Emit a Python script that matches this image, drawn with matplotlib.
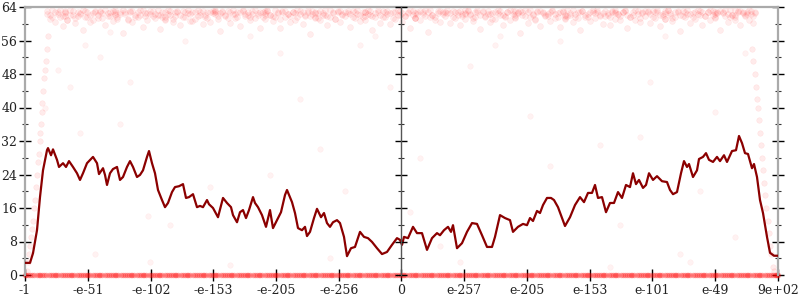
import matplotlib
matplotlib.use("Agg")
import matplotlib.pyplot as plt
from matplotlib.ticker import MultipleLocator

# x axis: sample order position (0 .. 753), tick labels are the sampled input values
x_ticks = [0, 63, 126, 188, 251, 314, 376, 439, 502, 565, 627, 690, 753]
x_labels = ["-1", "-e-51", "-e-102", "-e-153", "-e-205", "-e-256", "0",
            "e-257", "e-205", "e-153", "e-101", "e-49", "9e+02"]
mid_pos = 376

# averaged error (bits) along x
line_x = [0, 5, 8, 12, 15, 18, 22, 23, 26, 28, 32, 34, 38, 41, 44, 48, 52, 55, 58, 62,
          66, 68, 72, 74, 78, 80, 82, 85, 88, 92, 95, 98, 102, 105, 108, 112, 115, 118, 122, 124,
          127, 130, 133, 137, 140, 143, 147, 150, 154, 158, 161, 164, 168, 172, 175, 178, 182, 184, 188, 193,
          198, 202, 206, 208, 212, 215, 218, 221, 224, 228, 230, 233, 237, 241, 245, 248, 252, 256, 260, 262,
          267, 270, 273, 277, 280, 282, 285, 289, 292, 296, 299, 302, 305, 308, 312, 315, 319, 322, 326, 330,
          335, 339, 343, 347, 352, 357, 362, 367, 372, 375, 377, 379, 383, 388, 392, 397, 402, 407, 412, 415,
          419, 423, 426, 428, 432, 437, 442, 447, 452, 457, 462, 467, 470, 475, 480, 485, 488, 493, 498, 502,
          505, 508, 512, 515, 518, 522, 526, 529, 533, 537, 540, 545, 550, 555, 559, 563, 567, 570, 573, 577,
          581, 585, 589, 593, 597, 601, 605, 608, 611, 614, 618, 621, 624, 628, 632, 637, 642, 645, 648, 652,
          656, 659, 662, 664, 668, 672, 674, 678, 681, 684, 688, 692, 695, 699, 702, 707, 711, 714, 717, 720,
          723, 727, 729, 732, 735, 738, 742, 745, 749, 753]
line_y = [2.9, 2.9, 5.2, 10.7, 18.6, 25.0, 29.8, 30.3, 28.6, 30.0, 27.5, 25.8, 26.7, 25.8, 27.2, 25.8, 24.3, 22.7, 24.3, 26.7,
          27.7, 28.2, 26.7, 24.1, 25.5, 23.9, 21.5, 24.3, 25.3, 25.8, 22.7, 23.4, 25.8, 27.2, 25.8, 23.4, 23.9, 25.0, 28.2, 29.6,
          26.7, 24.3, 20.3, 17.9, 16.2, 17.2, 19.8, 21.0, 21.2, 21.7, 18.4, 18.6, 19.3, 16.2, 16.5, 16.2, 17.9, 16.9, 16.0, 13.8,
          18.4, 17.2, 16.2, 14.3, 12.6, 15.0, 15.5, 13.6, 15.5, 18.6, 17.2, 16.2, 14.3, 11.5, 15.5, 11.2, 13.1, 15.0, 19.1, 20.3,
          17.4, 14.8, 11.2, 10.7, 11.5, 9.3, 10.3, 13.6, 15.8, 13.8, 14.8, 12.4, 11.5, 12.6, 13.1, 12.4, 9.1, 4.5, 6.4, 6.7,
          10.3, 9.1, 8.8, 7.9, 6.4, 5.0, 5.5, 7.2, 8.8, 8.4, 7.2, 9.1, 8.8, 11.5, 10.0, 10.0, 6.0, 8.8, 10.0, 9.5,
          10.7, 11.5, 10.3, 11.9, 6.4, 7.6, 10.3, 12.4, 12.2, 9.5, 6.7, 6.7, 9.1, 14.3, 13.6, 13.1, 10.3, 11.5, 12.2, 11.9,
          13.6, 12.9, 15.3, 14.8, 16.7, 18.4, 18.4, 17.9, 16.2, 13.6, 11.7, 13.8, 16.7, 18.6, 17.4, 19.6, 19.6, 21.5, 18.4, 18.6,
          15.0, 17.2, 17.2, 19.8, 18.4, 21.5, 21.0, 24.3, 21.7, 22.7, 20.8, 21.5, 24.3, 22.7, 23.6, 22.4, 22.2, 20.3, 19.3, 19.8,
          24.3, 27.2, 25.8, 26.5, 23.4, 25.0, 27.7, 28.2, 29.1, 27.5, 27.0, 28.2, 27.2, 28.6, 27.0, 29.6, 29.8, 33.2, 31.5, 29.1,
          28.9, 25.5, 26.5, 23.4, 17.9, 14.8, 9.1, 5.3, 4.6, 4.6]

# individual sampled errors: dense band near the top
top_x = [22, 25, 27, 30, 33, 35, 38, 40, 42, 45, 48, 50, 53, 55, 58, 60, 62, 65, 68, 70,
         73, 75, 77, 80, 83, 85, 88, 90, 92, 95, 98, 100, 103, 105, 107, 110, 113, 115, 118, 120,
         122, 125, 128, 130, 133, 135, 137, 140, 143, 145, 148, 150, 152, 155, 158, 160, 163, 165, 167, 170,
         173, 175, 178, 180, 182, 185, 188, 190, 193, 195, 197, 200, 203, 205, 208, 210, 212, 215, 218, 220,
         223, 225, 227, 230, 233, 235, 238, 240, 242, 245, 248, 250, 253, 255, 257, 260, 263, 265, 268, 270,
         272, 275, 278, 280, 283, 285, 287, 290, 293, 295, 298, 300, 302, 305, 308, 310, 313, 315, 317, 320,
         323, 325, 328, 330, 332, 335, 338, 340, 343, 345, 347, 350, 353, 355, 358, 360, 362, 365, 368, 370,
         373, 375, 377, 380, 383, 385, 388, 390, 392, 395, 398, 400, 403, 405, 407, 410, 413, 415, 418, 420,
         422, 425, 428, 430, 433, 435, 437, 440, 443, 445, 448, 450, 452, 455, 458, 460, 463, 465, 467, 470,
         473, 475, 478, 480, 482, 485, 488, 490, 493, 495, 497, 500, 503, 505, 508, 510, 512, 515, 518, 520,
         523, 525, 527, 530, 533, 535, 538, 540, 542, 545, 548, 550, 553, 555, 557, 560, 563, 565, 568, 570,
         572, 575, 578, 580, 583, 585, 587, 590, 593, 595, 598, 600, 602, 605, 608, 610, 613, 615, 617, 620,
         623, 625, 628, 630, 632, 635, 638, 640, 643, 645, 647, 650, 653, 655, 658, 660, 662, 665, 668, 670,
         673, 675, 677, 680, 683, 685, 688, 690, 692, 695, 698, 700, 703, 705, 707, 710, 713, 715, 718, 720,
         722, 724, 726, 728, 730, 40, 90, 140, 190, 240, 290, 340, 390, 440, 490, 540, 590, 640, 690, 710]
top_y = [62.4, 61.1, 63.2, 60.3, 62.8, 61.7, 59.5, 62.9, 61.0, 63.3, 62.2, 60.1, 61.8, 62.6, 58.6, 63.0, 61.5, 62.0, 60.8, 62.7,
         61.3, 63.1, 62.5, 59.8, 61.9, 62.8, 60.6, 63.2, 61.6, 62.3, 57.9, 62.9, 61.2, 63.0, 60.4, 62.1, 61.7, 63.3, 59.2, 62.6,
         60.9, 62.4, 63.1, 61.4, 62.0, 58.8, 62.7, 61.0, 63.2, 62.2, 60.3, 61.8, 62.9, 59.6, 63.0, 61.5, 62.5, 60.7, 62.8, 61.2,
         63.3, 62.0, 59.9, 61.6, 62.7, 60.5, 63.1, 62.3, 61.1, 58.3, 62.9, 61.8, 63.0, 60.2, 62.4, 61.3, 62.8, 59.4, 63.2, 61.9,
         62.1, 60.8, 63.0, 61.4, 62.6, 59.1, 62.9, 61.2, 63.3, 62.0, 60.6, 61.7, 62.8, 58.9, 63.1, 61.5, 62.3, 60.3, 62.7, 61.0,
         63.2, 62.4, 60.0, 61.8, 62.9, 57.6, 63.0, 61.3, 62.5, 60.9, 62.1, 63.3, 59.7, 61.6, 62.8, 61.1, 63.1, 60.4, 62.2, 61.9,
         62.6, 59.3, 63.0, 61.4, 62.4, 60.7, 62.9, 61.0, 63.2, 62.0, 58.5, 61.7, 62.7, 60.2, 63.1, 61.5, 62.3, 59.9, 62.8, 61.2,
         63.3, 62.1, 60.5, 61.8, 62.6, 59.0, 63.0, 61.3, 62.4, 60.8, 62.9, 63.2, 58.1, 61.6, 62.2, 61.0, 63.1, 60.3, 62.7, 61.9,
         62.5, 60.1, 63.0, 61.4, 62.8, 59.6, 62.3, 61.1, 63.3, 62.0, 60.6, 61.7, 62.9, 58.7, 63.1, 61.5, 62.4, 60.4, 62.6, 61.2,
         63.2, 62.2, 59.8, 61.9, 62.7, 60.9, 63.0, 61.3, 62.5, 57.8, 62.8, 63.3, 60.2, 61.6, 62.1, 61.0, 63.1, 59.4, 62.9, 61.8,
         62.4, 60.7, 63.0, 61.4, 62.6, 59.2, 62.9, 61.1, 63.2, 62.0, 60.3, 61.7, 62.8, 58.4, 63.1, 61.5, 62.3, 60.6, 62.7, 61.3,
         63.3, 62.1, 60.0, 61.8, 62.5, 59.7, 63.0, 61.2, 62.4, 60.8, 62.9, 63.2, 58.9, 61.6, 62.2, 61.0, 63.1, 60.5, 62.6, 61.9,
         62.7, 60.2, 63.0, 61.4, 62.8, 59.4, 62.3, 61.1, 63.3, 62.0, 60.7, 61.7, 62.9, 58.2, 63.1, 61.5, 62.4, 60.1, 62.6, 61.2,
         63.2, 62.2, 59.6, 61.9, 62.7, 60.9, 63.0, 61.3, 62.5, 58.6, 62.8, 63.3, 60.4, 61.6, 62.1, 61.0, 63.1, 59.8, 62.9, 61.8,
         62.4, 61.0, 63.0, 60.2, 62.6, 61.8, 62.9, 61.2, 63.1, 62.0, 61.6, 62.7, 61.4, 62.3, 63.0, 61.9, 62.5, 61.1, 62.8, 63.2]
top_y2 = [63.0, 62.2, 61.6, 62.9, 62.4, 63.3, 61.9, 62.6, 60.9, 62.1, 63.1, 61.4, 62.7, 62.3, 63.2, 61.7, 62.8, 60.5, 62.5, 63.0,
          62.0, 62.9, 61.3, 63.2, 62.6, 61.8, 63.0, 62.2, 61.1, 62.8, 63.3, 62.4, 60.8, 62.7, 63.1, 61.6, 62.9, 62.1, 63.2, 61.9,
          62.6, 63.0, 61.8, 62.4, 63.3, 62.0, 61.5, 62.8, 62.3, 63.1, 61.2, 62.7, 63.0, 62.1, 61.7, 62.9, 63.2, 62.4, 60.6, 62.8,
          61.9, 62.7, 63.1, 62.2, 61.4, 62.9, 62.5, 63.3, 61.8, 62.6, 63.0, 62.0, 61.3, 62.8, 63.2, 62.4, 61.6, 62.9, 63.1, 62.3,
          62.8, 61.7, 62.4, 63.2, 62.0, 62.9, 61.5, 62.6, 63.0, 62.2, 61.9, 63.3, 62.5, 61.2, 62.8, 63.1, 62.3, 61.8, 62.9, 62.6,
          61.6, 63.0, 62.7, 62.1, 63.3, 61.9, 62.4, 62.9, 61.4, 63.1, 62.6, 62.0, 61.8, 63.2, 62.5, 61.1, 62.8, 63.0, 62.3, 62.7,
          63.1, 62.4, 61.7, 62.9, 63.2, 62.0, 61.5, 62.7, 62.3, 63.0, 61.9, 62.6, 63.3, 62.2, 61.6, 62.8, 63.1, 62.5, 61.3, 62.9,
          62.2, 63.0, 62.6, 61.8, 62.9, 63.2, 62.1, 61.4, 62.7, 63.1, 62.4, 61.9, 62.8, 63.3, 62.0, 61.7, 62.6, 63.0, 62.3, 62.8,
          63.2, 62.5, 61.6, 62.9, 62.1, 63.0, 61.8, 62.6, 63.1, 62.3, 61.4, 62.8, 63.3, 62.0, 62.7, 61.9, 63.0, 62.4, 61.2, 62.9,
          62.6, 63.1, 62.0, 61.7, 62.8, 63.3, 62.3, 61.5, 62.9, 63.0, 62.2, 61.8, 62.7, 63.2, 62.4, 61.1, 62.8, 63.1, 62.5, 62.0,
          61.9, 62.7, 63.2, 62.3, 61.6, 62.9, 63.0, 62.1, 61.8, 62.6, 63.3, 62.4, 61.4, 62.8, 63.1, 62.0, 61.7, 62.9, 63.2, 62.5,
          62.8, 61.9, 62.6, 63.1, 62.2, 61.5, 62.9, 63.3, 62.4, 61.8, 62.7, 63.0, 62.1, 61.6, 62.8, 63.2, 62.3, 61.3, 62.9, 63.1,
          63.0, 62.4, 61.7, 62.8, 63.3, 62.1, 61.9, 62.6, 63.2, 62.5, 61.4, 62.9, 63.1, 62.2, 61.8, 62.7, 63.3, 62.4, 61.6, 62.9,
          62.3, 63.1, 62.7, 61.9, 62.8, 63.2, 62.0, 61.5, 62.9, 63.0, 62.6, 61.8, 62.4, 63.3, 62.2, 61.7, 62.8, 63.1, 62.5, 62.1,
          62.9, 63.2, 62.4, 61.8, 62.7, 63.0, 62.3, 61.6, 62.8, 63.1, 62.5, 61.9, 62.6, 63.3, 62.2, 61.4, 62.9, 63.0, 62.4, 62.0]

# transition at the ends and scattered stray samples
edge_x = [2, 3, 4, 5, 6, 7, 8, 9, 10, 11, 12, 13, 14, 15, 15, 16, 17, 17, 18, 19, 20, 21, 22, 23,
          727, 728, 730, 731, 732, 733, 734, 735, 736, 737, 738, 739, 740, 741, 743, 744, 745, 746, 748, 749]
edge_y = [1, 3, 5, 7, 9, 11, 13, 16, 18, 21, 24, 27, 29, 32, 34, 36, 39, 41, 44, 47, 49, 51, 54, 57,
          54, 51, 48, 45, 42, 40, 37, 34, 31, 28, 25, 22, 19, 16, 13, 10, 7, 5, 2, 1]
stray_x = [20, 33, 55, 60, 75, 85, 105, 123, 70, 145, 185, 225, 255, 275, 295, 320, 335, 365, 395, 415,
           445, 475, 505, 535, 575, 595, 625, 655, 675, 690, 710, 720, 125, 205, 305, 435, 585, 665, 95, 245,
           385, 525, 615, 45, 160, 350, 470, 640]
stray_y = [40, 49, 34, 55, 52, 58, 46, 14, 5, 12, 21, 57, 53, 42, 30, 20, 55, 45, 28, 7,
           50, 57, 38, 56, 31, 12, 46, 5, 20, 39, 9, 53, 3, 2.5, 4, 3, 2, 3, 36, 24,
           15, 26, 33, 45, 56, 57, 55, 57]

# samples with zero error along the bottom
bottom_x = [0, 3, 7, 12, 15, 19, 24, 28, 31, 36, 40, 44, 47, 52, 56, 60, 63, 68, 72, 75,
            80, 84, 88, 91, 96, 100, 104, 107, 112, 116, 119, 124, 128, 132, 135, 140, 144, 148, 151, 156,
            160, 163, 168, 172, 176, 179, 184, 188, 191, 196, 200, 204, 207, 212, 216, 220, 223, 228, 232, 235,
            240, 244, 248, 251, 256, 260, 263, 268, 272, 276, 279, 284, 288, 291, 296, 300, 304, 307, 312, 316,
            320, 323, 328, 332, 335, 340, 344, 348, 351, 356, 360, 363, 368, 372, 376, 379, 384, 388, 391, 396,
            400, 404, 407, 412, 416, 420, 423, 428, 432, 435, 440, 444, 448, 451, 456, 460, 463, 468, 472, 476,
            479, 484, 488, 491, 496, 500, 504, 507, 512, 516, 520, 523, 528, 532, 535, 540, 544, 548, 551, 556,
            560, 563, 568, 572, 576, 579, 584, 588, 591, 596, 600, 604, 607, 612, 616, 620, 623, 628, 632, 635,
            640, 644, 648, 651, 656, 660, 663, 668, 672, 676, 679, 684, 688, 691, 696, 700, 704, 707, 712, 716,
            720, 723, 728, 732, 735, 740, 744, 748, 751, 753,
            1, 5, 9, 14, 17, 21, 26, 30, 33, 38, 42, 46, 49, 54, 58, 62, 65, 70, 74, 77,
            82, 86, 90, 93, 98, 102, 106, 109, 114, 118, 121, 126, 130, 134, 137, 142, 146, 150, 153, 158,
            162, 165, 170, 174, 178, 181, 186, 190, 193, 198, 202, 206, 209, 214, 218, 222, 225, 230, 234, 237,
            242, 246, 250, 253, 258, 262, 265, 270, 274, 278, 281, 286, 290, 293, 298, 302, 306, 309, 314, 318,
            322, 325, 330, 334, 337, 342, 346, 350, 353, 358, 362, 365, 370, 374, 378, 381, 386, 390, 393, 398,
            402, 406, 409, 414, 418, 422, 425, 430, 434, 437, 442, 446, 450, 453, 458, 462, 465, 470, 474, 478,
            481, 486, 490, 493, 498, 502, 506, 509, 514, 518, 522, 525, 530, 534, 537, 542, 546, 550, 553, 558,
            562, 565, 570, 574, 578, 581, 586, 590, 593, 598, 602, 606, 609, 614, 618, 622, 625, 630, 634, 637,
            642, 646, 650, 653, 658, 662, 665, 670, 674, 678, 681, 686, 690, 693, 698, 702, 706, 709, 714, 718,
            722, 725, 730, 734, 737, 742, 746, 750, 752]

y_major = 8
y_max = 64

fig = plt.figure(figsize=(8, 3), dpi=100)
L, B, W, H = 25 / 800, 25 / 300, 753 / 800, 268 / 300
ax = fig.add_axes([L, B, W, H])

pt_color = "#ff0000"
ax.scatter(top_x, top_y, s=18, color=pt_color, alpha=0.07, linewidths=0.4, zorder=2)
ax.scatter(top_x, top_y2, s=18, color=pt_color, alpha=0.07, linewidths=0.4, zorder=2)
ax.scatter(edge_x, edge_y, s=16, color=pt_color, alpha=0.08, linewidths=0.4, zorder=2)
ax.scatter(stray_x, stray_y, s=16, color=pt_color, alpha=0.05, linewidths=0.4, zorder=2)
ax.scatter(bottom_x, [0] * len(bottom_x), s=16, color=pt_color, alpha=0.3,
           linewidths=0, zorder=2, clip_on=False)
ax.plot(line_x, line_y, color="#8b0000", lw=1.6, zorder=4, solid_joinstyle="round")

ax.set_xlim(0, 753)
ax.set_ylim(0, y_max)

serif = "DejaVu Serif"
ax.set_xticks(x_ticks)
ax.set_xticklabels(x_labels, fontsize=9, family=serif, color="#222222")
ax.yaxis.set_major_locator(MultipleLocator(y_major))
ax.yaxis.set_minor_locator(MultipleLocator(y_major / 2))
for lab in ax.get_yticklabels():
    lab.set_fontfamily(serif)
ax.tick_params(axis="y", which="major", direction="inout", length=8, width=1,
               color="black", labelsize=9, pad=1.5, right=True, labelcolor="#222222")
ax.tick_params(axis="y", which="minor", direction="inout", length=4, width=0.8,
               color="#333333", right=True)
ax.tick_params(axis="x", which="major", direction="inout", length=8.5, width=1,
               color="black", pad=2.5)

for side in ["left", "right", "top"]:
    ax.spines[side].set_color("#aaaaaa")
    ax.spines[side].set_linewidth(1.6)
ax.spines["bottom"].set_visible(False)

# middle axis at zero
mid_frac = L + W * mid_pos / 753
axm = fig.add_axes([mid_frac, B, 1e-6, H])
axm.set_facecolor("none")
axm.set_ylim(0, y_max)
axm.set_xticks([])
for side in ["right", "top", "bottom"]:
    axm.spines[side].set_visible(False)
axm.spines["left"].set_color("#555555")
axm.spines["left"].set_linewidth(1.0)
axm.yaxis.set_major_locator(MultipleLocator(y_major))
axm.yaxis.set_minor_locator(MultipleLocator(y_major / 2))
axm.tick_params(axis="y", which="major", direction="inout", length=8, width=1,
                color="black", labelleft=False)
axm.tick_params(axis="y", which="minor", direction="inout", length=4, width=0.8,
                color="#333333")

fig.savefig("out.png", dpi=100)
